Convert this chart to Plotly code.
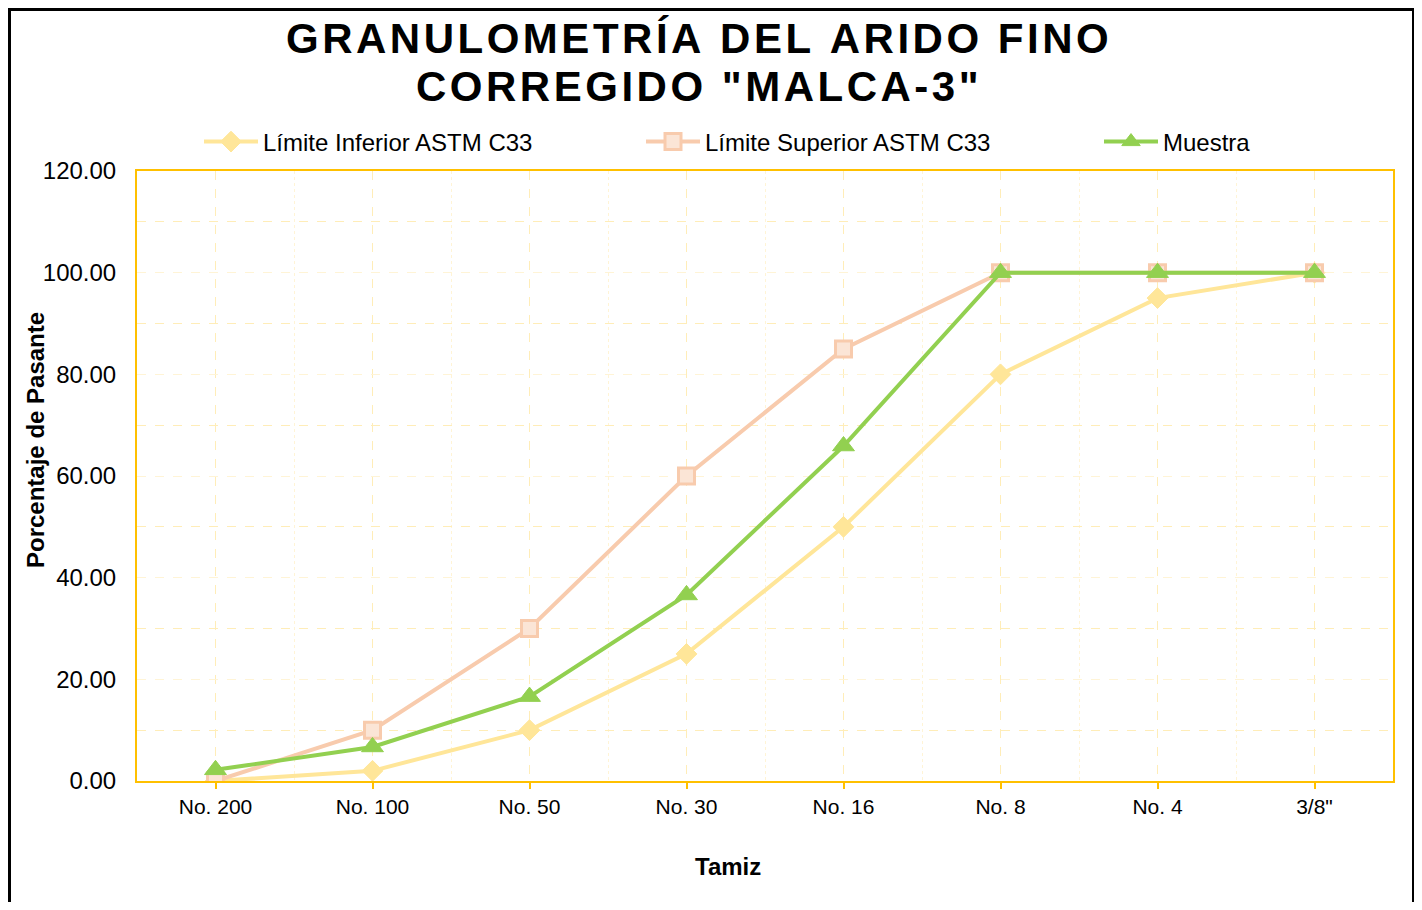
import plotly.graph_objects as go

# Tamices (eje X) y porcentajes que pasan
tamices = ["No. 200", "No. 100", "No. 50", "No. 30", "No. 16", "No. 8", "No. 4", '3/8"']
limite_inferior = [0, 2, 10, 25, 50, 80, 95, 100]
limite_superior = [0, 10, 30, 60, 85, 100, 100, 100]
muestra = [2.2, 6.7, 16.6, 36.6, 65.9, 100, 100, 100]

titulo = ["GRANULOMETRÍA DEL ARIDO FINO", 'CORREGIDO "MALCA-3"']

FONT = "Arial, Liberation Sans, sans-serif"
GOLD = "#FFC000"
x = list(range(len(tamices)))


def spaced(s):
    # letter spacing imitation with hair spaces
    return "\u200a".join(s)


fig = go.Figure()

fig.add_trace(go.Scatter(
    x=x, y=limite_inferior, mode="lines+markers",
    name="Límite Inferior ASTM C33", legend="legend",
    line=dict(color="#FFE699", width=4),
    marker=dict(symbol="diamond", size=16, color="#FFE699",
                line=dict(color="#FFE699", width=1)),
))
fig.add_trace(go.Scatter(
    x=x, y=limite_superior, mode="lines+markers",
    name="Límite Superior ASTM C33", legend="legend2",
    line=dict(color="#F8CBAD", width=4),
    marker=dict(symbol="square", size=16, color="#FBE5D6",
                line=dict(color="#F8CBAD", width=3)),
))
fig.add_trace(go.Scatter(
    x=x, y=muestra, mode="lines+markers",
    name="Muestra", legend="legend3",
    line=dict(color="#92D050", width=4),
    marker=dict(symbol="triangle-up", size=19, color="#92D050",
                line=dict(color="#92D050", width=1)),
))

# page body adds 8px around the figure, so the figure is 8px smaller
OFF = 8
W, H = 1422 - 2 * OFF, 910 - 2 * OFF
L, T = 137 - OFF, 171 - OFF
R, B = W - (1393 - OFF), H - (781 - OFF)
pw, ph = W - L - R, H - T - B


def px(v):
    return (v - OFF - L) / pw


def py(v):
    return (H - B - (v - OFF)) / ph


leg = dict(orientation="h", xanchor="left", yanchor="middle", y=py(142),
           bgcolor="rgba(0,0,0,0)", borderwidth=0, itemwidth=54,
           font=dict(family=FONT, size=24, color="#000000"))

title_font = dict(family=FONT, size=42, color="#000000")

fig.update_layout(
    width=W, height=H,
    margin=dict(l=L, r=R, t=T, b=B, autoexpand=False),
    paper_bgcolor="white", plot_bgcolor="white",
    showlegend=True,
    legend=dict(leg, x=px(199)),
    legend2=dict(leg, x=px(641)),
    legend3=dict(leg, x=px(1099)),
    xaxis=dict(
        range=[-0.5, 7.5], tickvals=x, ticktext=tamices,
        tickfont=dict(family=FONT, size=21, color="#000000"),
        showline=True, linecolor=GOLD, linewidth=2, mirror=True,
        ticks="outside", ticklen=6, tickcolor=GOLD, tickwidth=2,
        ticklabelstandoff=0,
        showgrid=True, gridcolor="#FFEDB8", griddash="dash", gridwidth=1,
        minor=dict(tick0=0.5, dtick=1, showgrid=True, gridcolor="#FFF4D6",
                   griddash="dot", gridwidth=1, ticks=""),
        zeroline=False, fixedrange=True,
    ),
    yaxis=dict(
        range=[0, 120], dtick=20, tickformat=".2f",
        tickfont=dict(family=FONT, size=24, color="#000000"),
        showline=True, linecolor=GOLD, linewidth=2, mirror=True,
        ticks="", ticklabelstandoff=14,
        showgrid=True, gridcolor="#FFF4D6", griddash="dash", gridwidth=1,
        minor=dict(dtick=10, showgrid=True, gridcolor="#FFEDB8",
                   griddash="dash", gridwidth=1, ticks=""),
        zeroline=False, fixedrange=True,
    ),
    annotations=[
        dict(text="<b>" + spaced(titulo[0]) + "</b>",
             xref="paper", yref="paper", x=px(697), y=py(38),
             xanchor="center", yanchor="middle", showarrow=False,
             font=title_font),
        dict(text="<b>" + spaced(titulo[1]) + "</b>",
             xref="paper", yref="paper", x=px(697), y=py(87),
             xanchor="center", yanchor="middle", showarrow=False,
             font=title_font),
        dict(text="<b>Tamiz</b>", xref="paper", yref="paper",
             x=px(728), y=py(866), xanchor="center", yanchor="middle",
             showarrow=False, font=dict(family=FONT, size=24, color="#000000")),
        dict(text="<b>Porcentaje de Pasante</b>", xref="paper", yref="paper",
             x=px(35), y=py(440), xanchor="center", yanchor="middle",
             textangle=-90, showarrow=False,
             font=dict(family=FONT, size=24, color="#000000")),
    ],
    shapes=[
        dict(type="rect", xref="paper", yref="paper",
             x0=px(9), x1=px(1414), y0=py(940), y1=py(9),
             line=dict(color="#000000", width=4), fillcolor="rgba(0,0,0,0)",
             layer="below"),
    ],
)

fig.write_html("out.html")
